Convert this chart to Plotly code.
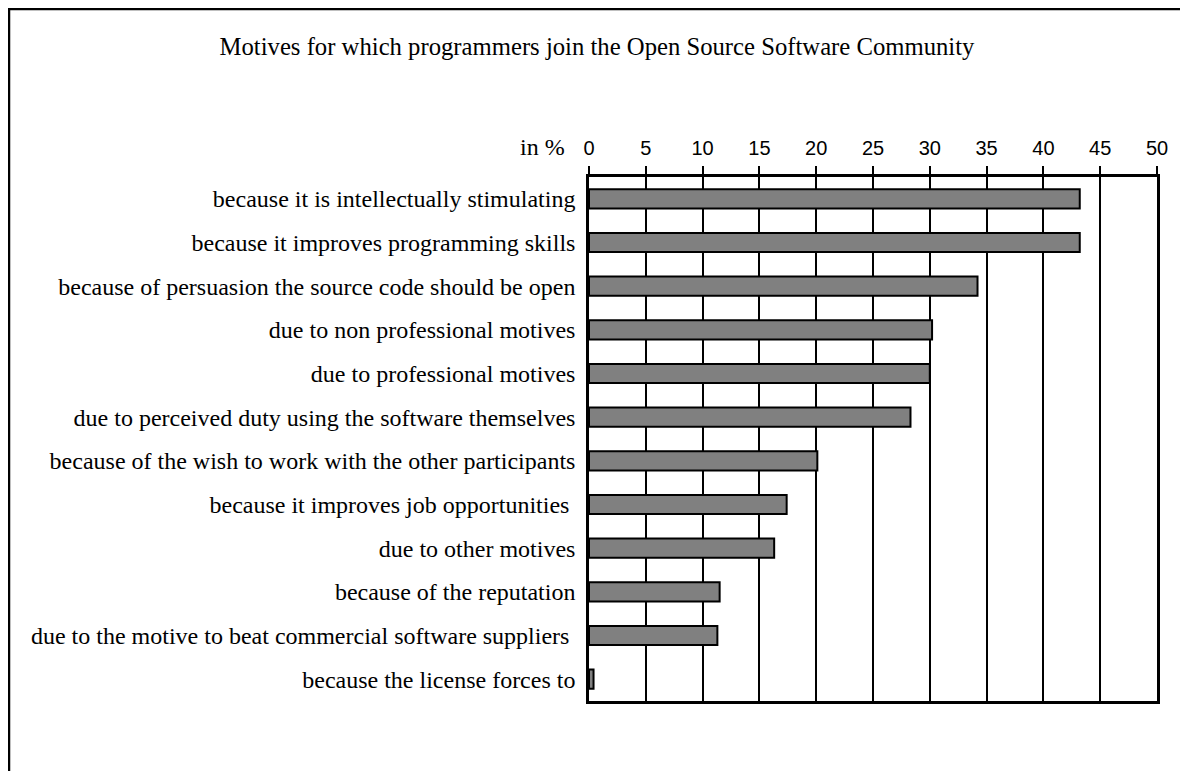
import plotly.graph_objects as go

title_text = "Motives for which programmers join the Open Source Software Community"
categories = [
    "because it is intellectually stimulating",
    "because it improves programming skills",
    "because of persuasion the source code should be open",
    "due to non professional motives",
    "due to professional motives",
    "due to perceived duty using the software themselves",
    "because of the wish to work with the other participants",
    "because it improves job opportunities ",
    "due to other motives",
    "because of the reputation",
    "due to the motive to beat commercial software suppliers ",
    "because the license forces to",
]
values = [43.2, 43.2, 34.2, 30.2, 30.0, 28.3, 20.1, 17.4, 16.3, 11.5, 11.3, 0.4]
x_ticks = [0, 5, 10, 15, 20, 25, 30, 35, 40, 45, 50]
unit_label = "in %"

# page body adds an 8px offset; work in screen coordinates and subtract it
OFF = 8
W, H = 1188 - OFF, 771 - OFF
L, T = 589 - OFF, 177 - OFF
R = W - (1157 - OFF)
B = H - (701 - OFF)
pw, ph = W - L - R, H - T - B

def px(x):
    return (x - OFF - L) / pw

def py(y):
    return (H - B - (y - OFF)) / ph

serif = "Liberation Serif, Times New Roman, serif"
sans = "Liberation Sans, Arial, sans-serif"

fig = go.Figure(go.Bar(
    x=values, y=categories, orientation="h",
    marker=dict(color="#808080", line=dict(color="black", width=2)),
    width=0.44,
))

fig.update_layout(
    width=W, height=H,
    margin=dict(l=L, r=R, t=T, b=B, pad=0),
    paper_bgcolor="white", plot_bgcolor="white",
    showlegend=False,
    title=dict(text=title_text, xref="container", yref="container",
               x=(597 - OFF) / W, xanchor="center",
               y=1 - (46 - OFF) / H, yanchor="middle",
               font=dict(family=serif, size=24.7, color="black")),
    xaxis=dict(side="top", range=[0, 50], tickvals=x_ticks,
               ticktext=[str(v) for v in x_ticks],
               ticks="outside", ticklen=8, tickwidth=2, tickcolor="black",
               ticklabelstandoff=3,
               showgrid=True, gridcolor="black", gridwidth=2,
               showline=True, linecolor="black", linewidth=2.5, mirror=True,
               zeroline=False,
               tickfont=dict(family=sans, size=20, color="black")),
    yaxis=dict(autorange="reversed", showgrid=False, zeroline=False,
               showline=True, linecolor="black", linewidth=2.5, mirror=True,
               ticks="", ticklabelstandoff=6,
               tickfont=dict(family=serif, size=24, color="black")),
    shapes=[dict(type="rect", xref="paper", yref="paper",
                 x0=px(9), x1=px(1188 + 20), y0=py(771 + 20), y1=py(9),
                 line=dict(color="black", width=2.5), fillcolor="rgba(0,0,0,0)",
                 layer="above")],
    annotations=[dict(text=unit_label, xref="paper", yref="paper",
                      x=px(567), y=py(147), xanchor="right", yanchor="middle",
                      showarrow=False,
                      font=dict(family=serif, size=24, color="black"))],
)

fig.write_html("out.html")
